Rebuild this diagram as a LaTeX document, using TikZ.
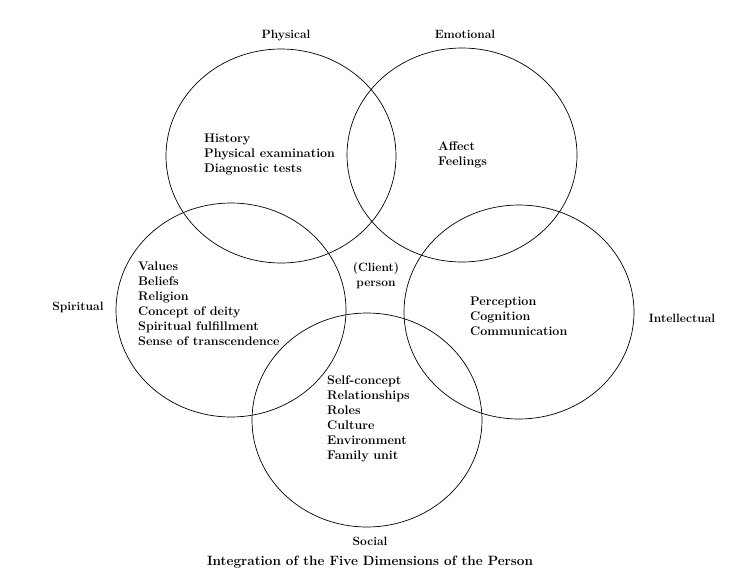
\documentclass[tikz,border=0pt]{standalone}
\usepackage{tikz}
\usetikzlibrary{shapes.geometric}

\begin{document}
\begin{tikzpicture}[x=1pt, y=-1pt,
   ring/.style={draw, ellipse, minimum width=230pt, minimum height=214pt, line width=0.7pt, inner sep=0pt},
   dim/.style={font=\fontsize{12}{15}\selectfont\bfseries, inner sep=0pt},
   items/.style={font=\fontsize{12.5}{15}\selectfont\bfseries, align=left, anchor=west, inner sep=0pt}]
  \useasboundingbox (0,0) rectangle (738,576);
  % the five circles
  \node[ring] (phys)  at (281,156) {};
  \node[ring] (emo)   at (462,155) {};
  \node[ring] (spir)  at (231,310) {};
  \node[ring] (intel) at (519,312) {};
  \node[ring] (soc)   at (367,420) {};
  % dimension names
  \node[dim] (physL)  at (286,36)  {Physical};
  \node[dim] (emoL)   at (465,34)  {Emotional};
  \node[dim] (spirL)  at (78,307)  {Spiritual};
  \node[dim] (intelL) at (682,318) {Intellectual};
  \node[dim] (socL)   at (370,541) {Social};
  % contents of each circle
  \node[items] (physT)  at (204,154) {History\\ Physical examination\\ Diagnostic tests};
  \node[items] (emoT)   at (438,155) {Affect\\ Feelings};
  \node[items] (spirT)  at (138,304) {Values\\ Beliefs\\ Religion\\ Concept of deity\\
                                       Spiritual fulfillment\\ Sense of transcendence};
  \node[items] (intelT) at (470,316) {Perception\\ Cognition\\ Communication};
  \node[items] (socT)   at (327,419) {Self-concept\\ Relationships\\ Roles\\ Culture\\
                                       Environment\\ Family unit};
  % centre and caption
  \node[dim, align=center] (client) at (376,276) {(Client)\\ person};
  \node[dim, font=\fontsize{13.5}{16}\selectfont\bfseries] (caption) at (370,562)
       {Integration of the Five Dimensions of the Person};
\end{tikzpicture}
\end{document}
